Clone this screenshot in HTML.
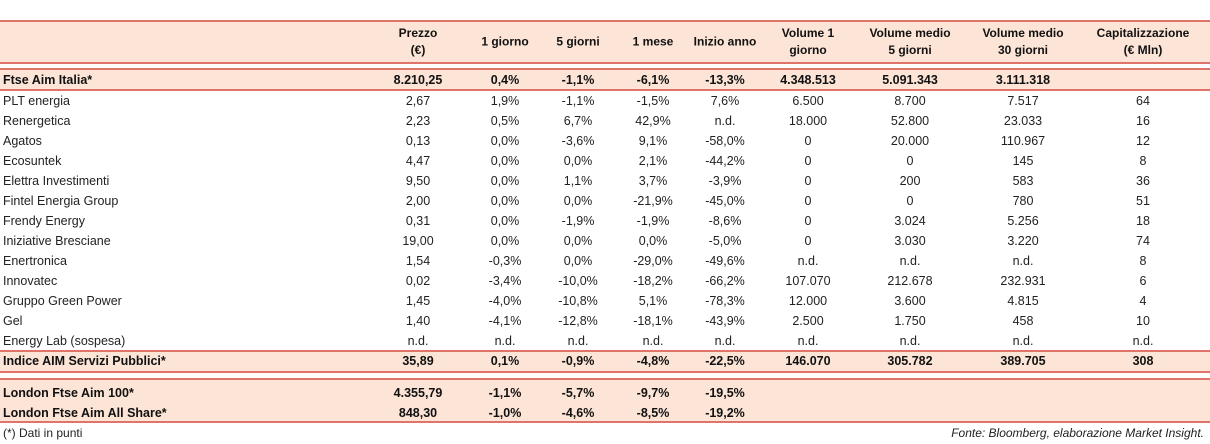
<!DOCTYPE html>
<html><head><meta charset="utf-8"><style>
body{margin:0;width:1210px;height:444px;background:#fff;font-family:"Liberation Sans",sans-serif;position:relative;overflow:hidden;color:#222}
.band{position:absolute;left:0;width:1210px;background:#fce4d6}
.ln{position:absolute;left:0;width:1210px;height:2px;background:#e0746a}
.c{position:absolute;font-size:12.5px;white-space:nowrap;transform:translate(-50%,-50%);text-align:center}
.l{position:absolute;font-size:12.5px;white-space:nowrap;transform:translateY(-50%);left:3px}
.b{font-weight:bold;color:#111}
.h{font-weight:bold;font-size:12px;line-height:17px;color:#111}
.f{position:absolute;font-size:12px;top:426px}
</style></head><body>
<div class="band" style="top:22px;height:41px"></div>
<div class="band" style="top:70px;height:20px"></div>
<div class="band" style="top:352px;height:20px"></div>
<div class="band" style="top:380px;height:41px"></div>
<div class="ln" style="top:20px"></div>
<div class="ln" style="top:62px"></div>
<div class="ln" style="top:68px"></div>
<div class="ln" style="top:89px"></div>
<div class="ln" style="top:350px"></div>
<div class="ln" style="top:371px"></div>
<div class="ln" style="top:378px"></div>
<div class="ln" style="top:421px"></div>
<div id="t"></div>
<div class="f" style="left:3px">(*) Dati in punti</div>
<div class="f" style="right:6px;font-style:italic">Fonte: Bloomberg, elaborazione Market Insight.</div>
<script>
const colX=[418,505,578,653,725,808,910,1023,1143];
const headers=["Prezzo<br>(€)","1 giorno","5 giorni","1 mese","Inizio anno","Volume 1<br>giorno","Volume medio<br>5 giorni","Volume medio<br>30 giorni","Capitalizzazione<br>(€ Mln)"];
const rows=[
["Ftse Aim Italia*",80,1,["8.210,25","0,4%","-1,1%","-6,1%","-13,3%","4.348.513","5.091.343","3.111.318",""]],
["PLT energia",101,0,["2,67","1,9%","-1,1%","-1,5%","7,6%","6.500","8.700","7.517","64"]],
["Renergetica",121,0,["2,23","0,5%","6,7%","42,9%","n.d.","18.000","52.800","23.033","16"]],
["Agatos",141,0,["0,13","0,0%","-3,6%","9,1%","-58,0%","0","20.000","110.967","12"]],
["Ecosuntek",161,0,["4,47","0,0%","0,0%","2,1%","-44,2%","0","0","145","8"]],
["Elettra Investimenti",181,0,["9,50","0,0%","1,1%","3,7%","-3,9%","0","200","583","36"]],
["Fintel Energia Group",201,0,["2,00","0,0%","0,0%","-21,9%","-45,0%","0","0","780","51"]],
["Frendy Energy",221,0,["0,31","0,0%","-1,9%","-1,9%","-8,6%","0","3.024","5.256","18"]],
["Iniziative Bresciane",241,0,["19,00","0,0%","0,0%","0,0%","-5,0%","0","3.030","3.220","74"]],
["Enertronica",261,0,["1,54","-0,3%","0,0%","-29,0%","-49,6%","n.d.","n.d.","n.d.","8"]],
["Innovatec",281,0,["0,02","-3,4%","-10,0%","-18,2%","-66,2%","107.070","212.678","232.931","6"]],
["Gruppo Green Power",301,0,["1,45","-4,0%","-10,8%","5,1%","-78,3%","12.000","3.600","4.815","4"]],
["Gel",321,0,["1,40","-4,1%","-12,8%","-18,1%","-43,9%","2.500","1.750","458","10"]],
["Energy Lab (sospesa)",341,0,["n.d.","n.d.","n.d.","n.d.","n.d.","n.d.","n.d.","n.d.","n.d."]],
["Indice AIM Servizi Pubblici*",361,1,["35,89","0,1%","-0,9%","-4,8%","-22,5%","146.070","305.782","389.705","308"]],
["London Ftse Aim 100*",393,1,["4.355,79","-1,1%","-5,7%","-9,7%","-19,5%","","","",""]],
["London Ftse Aim All Share*",413,1,["848,30","-1,0%","-4,6%","-8,5%","-19,2%","","","",""]]
];
const t=document.getElementById('t');
headers.forEach((h,i)=>{const d=document.createElement('div');d.className='c h';d.style.left=colX[i]+'px';d.style.top='42px';d.innerHTML=h;


t.appendChild(d);});
rows.forEach(r=>{const n=document.createElement('div');n.className='l'+(r[2]?' b':'');n.style.top=r[1]+'px';n.textContent=r[0];


t.appendChild(n);
r[3].forEach((v,i)=>{if(!v)return;const d=document.createElement('div');d.className='c'+(r[2]?' b':'');d.style.left=colX[i]+'px';d.style.top=r[1]+'px';d.textContent=v;


t.appendChild(d);});});
</script>
</body></html>
